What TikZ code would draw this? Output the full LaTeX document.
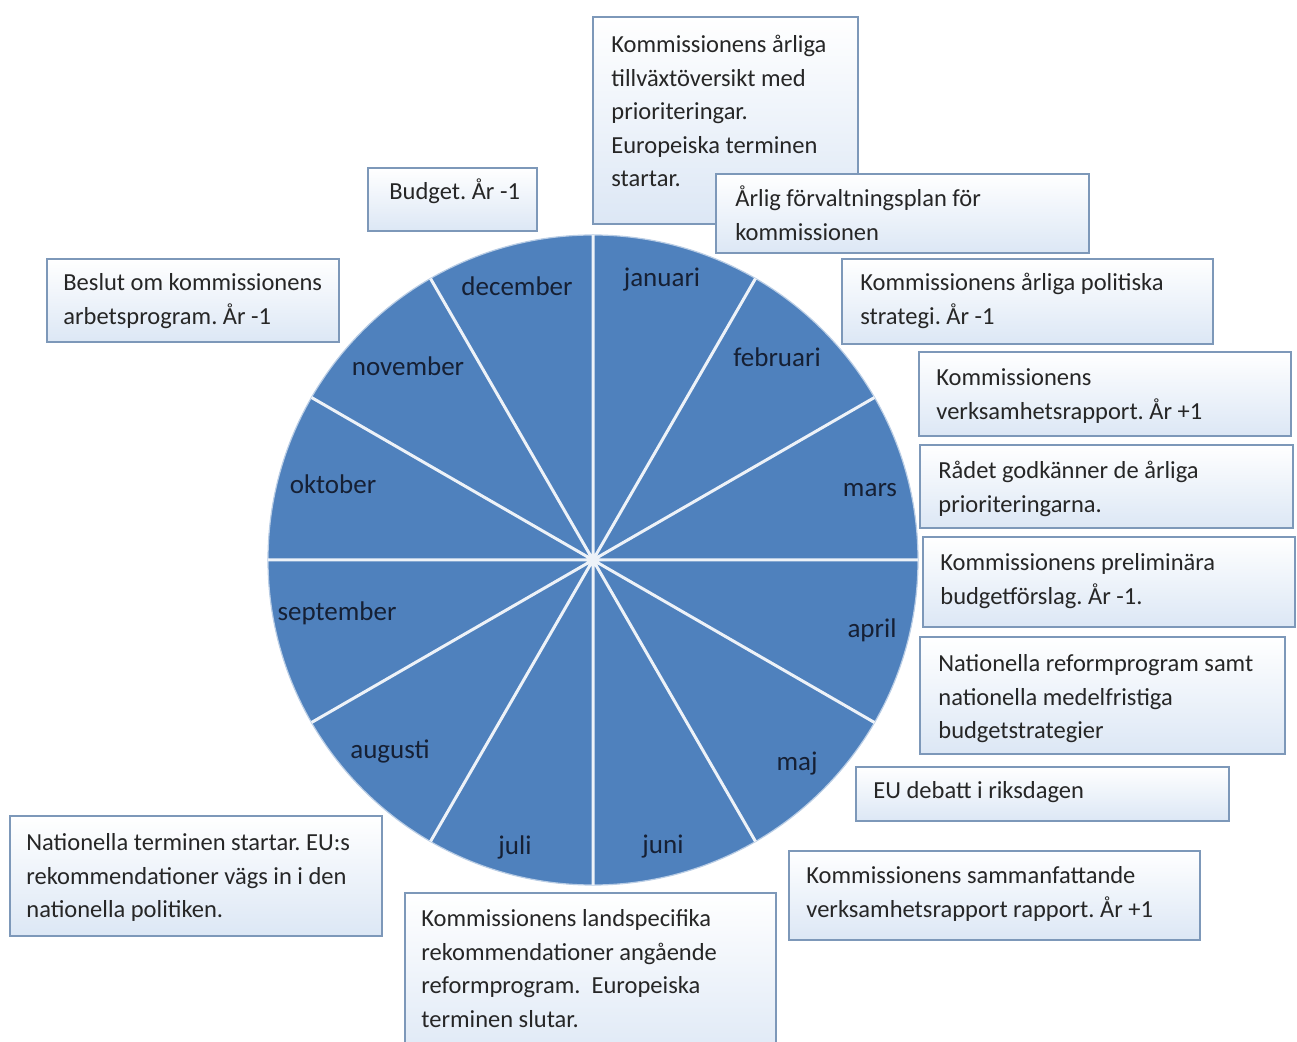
\documentclass[tikz,border=0pt]{standalone}
\usepackage{fontspec}
\setmainfont{Carlito}
\usetikzlibrary{fit}
\frenchspacing

\definecolor{wheelblue}{RGB}{79,129,189}
\definecolor{wheelink}{RGB}{22,32,52}
\definecolor{boxedge}{RGB}{125,152,185}
\definecolor{boxshade}{RGB}{220,231,245}

\tikzset{
	infobox/.style = {draw = boxedge, line width = 0.9pt, top color = white, bottom color = boxshade, inner sep = 0pt},
	infotext/.style = {anchor = north west, align = left, inner sep = 0pt, text = black!85, font = \fontsize{12.25}{16.75}\selectfont},
	month/.style = {text = wheelink, font = \fontsize{13.5}{16}\selectfont, inner sep = 0pt},
	spoke/.style = {draw = white!90!wheelblue, line width = 1.5pt}
}

% name, left, top, right, bottom, text x, first line y, text
\newcommand{\infobox}[8]{
	\node [infobox, fit = {(#2,#3) (#4,#5)}] (#1) {};
	\node [infotext] (#1-txt) at (#6,{#7-15}) {\strut #8};
}

\begin{document}
\begin{tikzpicture}[x = 0.5pt, y = -0.5pt]
			\def\rim{162.5pt};
			
			\useasboundingbox (0,0) rectangle (1297,1042);
			\clip (0,0) rectangle (1297,1042);
			
			% the wheel
			\coordinate (hub) at (593,560);
			\fill [wheelblue, draw = white!60!wheelblue, line width = 0.6pt] (hub) circle (\rim);
			
			\begin{scope}[shift = {(hub)}]
				\draw [spoke]
					(0:\rim) -- (180:\rim)
					(30:\rim) -- (210:\rim)
					(60:\rim) -- (240:\rim)
					(90:\rim) -- (270:\rim)
					(120:\rim) -- (300:\rim)
					(150:\rim) -- (330:\rim);
			\end{scope}
			
			\node [month] (jan) at (662,280) {januari};
			\node [month] (feb) at (777,357) {februari};
			\node [month] (mar) at (870,490) {mars};
			\node [month] (apr) at (872,630) {april};
			\node [month] (maj) at (797,764) {maj};
			\node [month] (jun) at (663,847) {juni};
			\node [month] (jul) at (515,847) {juli};
			\node [month] (aug) at (390,751) {augusti};
			\node [month] (sep) at (337,613) {september};
			\node [month] (okt) at (333,484) {oktober};
			\node [month] (nov) at (408,366) {november};
			\node [month] (dec) at (517,286) {december};
			
			% the boxes
			\infobox{tillvaxt}{593}{17}{858}{224}{611}{44}{Kommissionens årliga\\tillväxtöversikt med\\prioriteringar.\\Europeiska terminen\\startar.}
			\infobox{budget}{368}{168}{537}{231}{389}{191}{Budget. År -1}
			\infobox{forvaltning}{716}{174}{1089}{253}{735}{198}{Årlig förvaltningsplan för\\kommissionen}
			\infobox{arbetsprogram}{47}{259}{339}{342}{63}{282}{Beslut om kommissionens\\arbetsprogram. År -1}
			\infobox{strategi}{842}{259}{1213}{344}{860}{282}{Kommissionens årliga politiska\\strategi. År -1}
			\infobox{verksamhet}{919}{352}{1291}{436}{936}{377}{Kommissionens\\verksamhetsrapport. År +1}
			\infobox{radet}{920}{445}{1293}{528}{938}{470}{Rådet godkänner de årliga\\prioriteringarna.}
			\infobox{preliminar}{923}{537}{1295}{627}{940}{562}{Kommissionens preliminära\\budgetförslag. År -1.}
			\infobox{reform}{920}{637}{1285}{754}{938}{663}{Nationella reformprogram samt\\nationella medelfristiga\\budgetstrategier}
			\infobox{debatt}{856}{767}{1229}{821}{873}{790}{EU debatt i riksdagen}
			\infobox{sammanfattande}{789}{851}{1200}{940}{806}{875}{Kommissionens sammanfattande\\verksamhetsrapport rapport. År +1}
			\infobox{nationella}{10}{816}{382}{936}{26}{842}{Nationella terminen startar. EU:s\\rekommendationer vägs in i den\\nationella politiken.}
			\infobox{landspecifika}{405}{893}{776}{1070}{421}{918}{Kommissionens landspecifika\\rekommendationer angående\\reformprogram.\ \ Europeiska\\terminen slutar.}
		\end{tikzpicture}
\end{document}
